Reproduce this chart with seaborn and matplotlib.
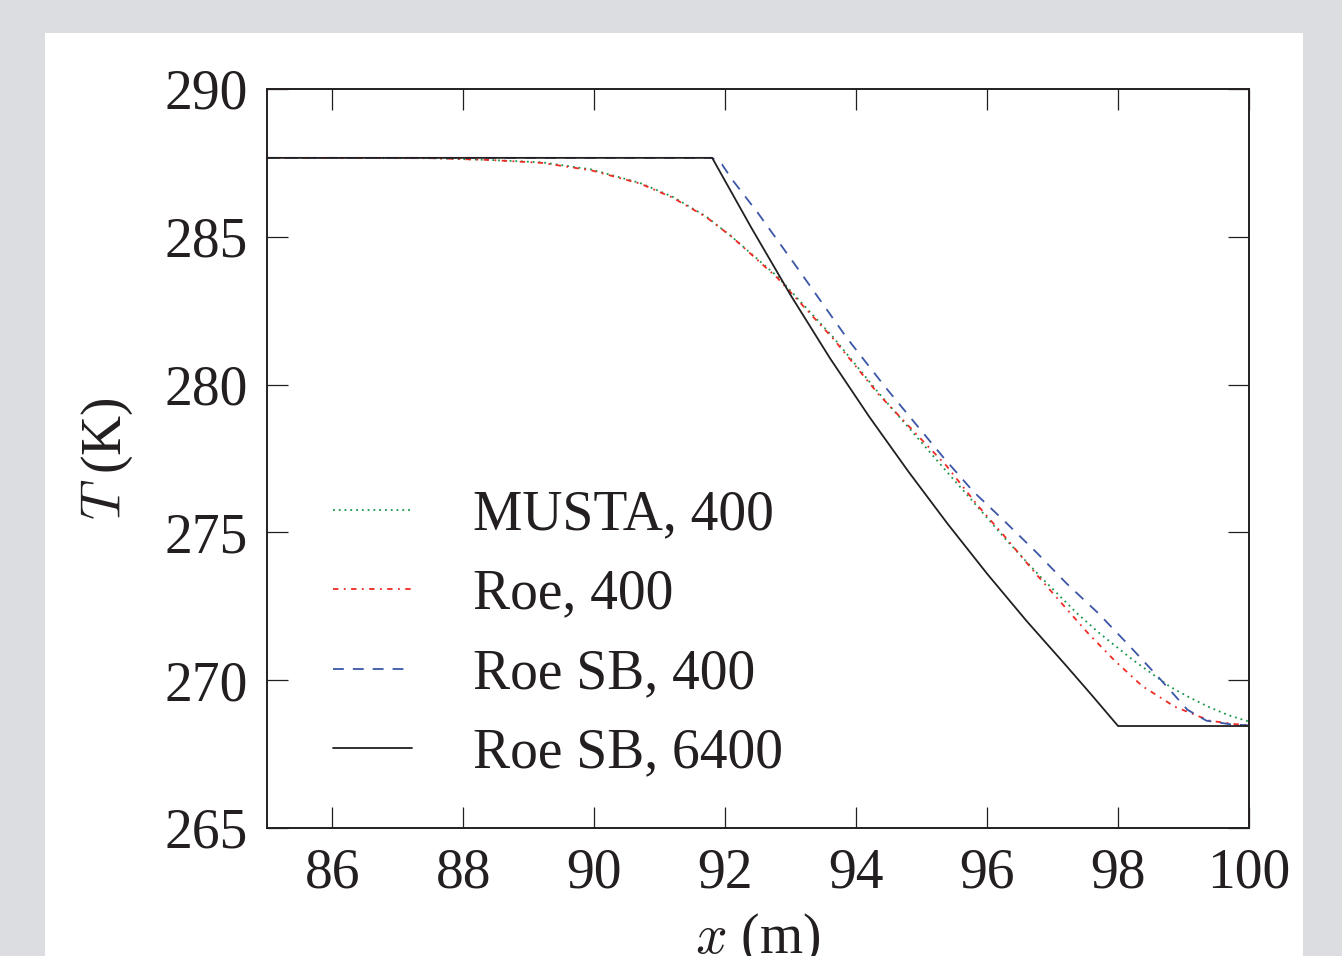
import matplotlib
matplotlib.use("Agg")
import matplotlib.pyplot as plt
import seaborn as sns
import pandas as pd
from matplotlib.patches import Rectangle

# Temperature profiles
x_musta = [85.0, 87.5, 88.4, 89.2, 89.95, 90.7, 91.2, 91.7, 92.1, 92.8, 93.65, 94.35,
           95.33, 95.84, 96.29, 96.81, 97.37, 97.71, 98.23, 98.78, 99.07, 99.38, 99.68, 100.0]
t_musta = [287.67, 287.66, 287.6, 287.52, 287.28, 286.82, 286.35, 285.7, 285.0, 283.65, 281.6, 279.7,
           277.19, 275.9, 274.75, 273.51, 272.27, 271.6, 270.68, 269.8, 269.44, 269.1, 268.82, 268.6]

x_roe = [85.0, 87.5, 88.4, 89.2, 89.95, 90.7, 91.2, 91.7, 92.1, 92.8, 93.65, 94.35,
         95.38, 95.86, 96.25, 96.76, 97.27, 97.52, 97.94, 98.37, 98.87, 99.4, 99.8, 100.0]
t_roe = [287.67, 287.66, 287.6, 287.5, 287.25, 286.8, 286.32, 285.68, 285.0, 283.6, 281.55, 279.65,
         277.25, 275.9, 274.91, 273.56, 272.27, 271.64, 270.68, 269.8, 269.1, 268.63, 268.51, 268.48]

x_sb400 = [85.0, 91.8, 91.95, 92.1, 92.5, 93.1, 93.85, 94.45, 95.33, 95.79, 96.27, 96.75,
           97.21, 97.7, 98.17, 98.63, 99.06, 99.35, 99.71, 100.0]
t_sb400 = [287.67, 287.67, 287.45, 286.95, 285.8, 283.95, 281.6, 279.9, 277.54, 276.38, 275.37, 274.33,
           273.28, 272.26, 271.17, 270.07, 269.0, 268.63, 268.51, 268.47]

x_sb6400 = [85.0, 91.8, 92.4, 93.0, 93.6, 94.2, 94.8, 95.4, 96.0, 96.6, 97.2, 97.6, 98.0, 100.0]
t_sb6400 = [287.67, 287.67, 285.3, 283.02, 280.89, 278.91, 277.05, 275.28, 273.6, 272.01, 270.51,
            269.49, 268.45, 268.45]

x_ticks = [86, 88, 90, 92, 94, 96, 98, 100]
y_ticks = [265, 270, 275, 280, 285, 290]

sns.set_theme(style="ticks")
plt.rcParams["font.family"] = ["Liberation Serif", "DejaVu Serif"]
plt.rcParams["mathtext.fontset"] = "cm"

ink = "#231f20"
W, H = 1342, 956
fig = plt.figure(figsize=(W / 100, H / 100), dpi=100, facecolor="#dcdde0")
fig.patches.append(Rectangle((45 / W, 0), (1303 - 45) / W, (H - 33) / H,
                             transform=fig.transFigure, facecolor="white", edgecolor="none", zorder=-5))
ax = fig.add_axes([267 / W, 1 - 828 / H, (1249 - 267) / W, (828 - 89) / H])
ax.set_zorder(2)
ax.set_facecolor("white")

series = [
    ("MUSTA, 400", x_musta, t_musta, "#17964a", (0, (1, 2.2))),
    ("Roe, 400", x_roe, t_roe, "#ee2a24", (0, (3, 3, 1, 3))),
    ("Roe SB, 400", x_sb400, t_sb400, "#3a56a6", (0, (6, 5))),
    ("Roe SB, 6400", x_sb6400, t_sb6400, ink, "-"),
]
for name, xs, ts, col, ls in series:
    df = pd.DataFrame({"x": xs, "T": ts})
    sns.lineplot(data=df, x="x", y="T", ax=ax, color=col, linestyle=ls,
                 linewidth=1.3, label=name)

ax.set_xlim(85, 100)
ax.set_ylim(265, 290)
ax.set_xticks(x_ticks)
ax.set_yticks(y_ticks)
ax.tick_params(direction="in", length=15, width=0.9, color=ink, labelcolor=ink,
               labelsize=40, top=True, right=True)
ax.tick_params(axis="x", pad=14)
ax.tick_params(axis="y", pad=14)
for s in ax.spines.values():
    s.set_color(ink)
    s.set_linewidth(1.4)

ax.set_xlabel("$x$ (m)", fontsize=40, color=ink, labelpad=9)
ax.set_ylabel("$T$ (K)", fontsize=40, color=ink, labelpad=21)

leg = ax.legend(loc="lower left", bbox_to_anchor=(0.045, 0.036), frameon=False,
                fontsize=40, handlelength=1.42, handletextpad=1.09, labelspacing=0.49,
                borderaxespad=0)
for t in leg.get_texts():
    t.set_color(ink)

fig.savefig("out.png", dpi=100, facecolor=fig.get_facecolor())
